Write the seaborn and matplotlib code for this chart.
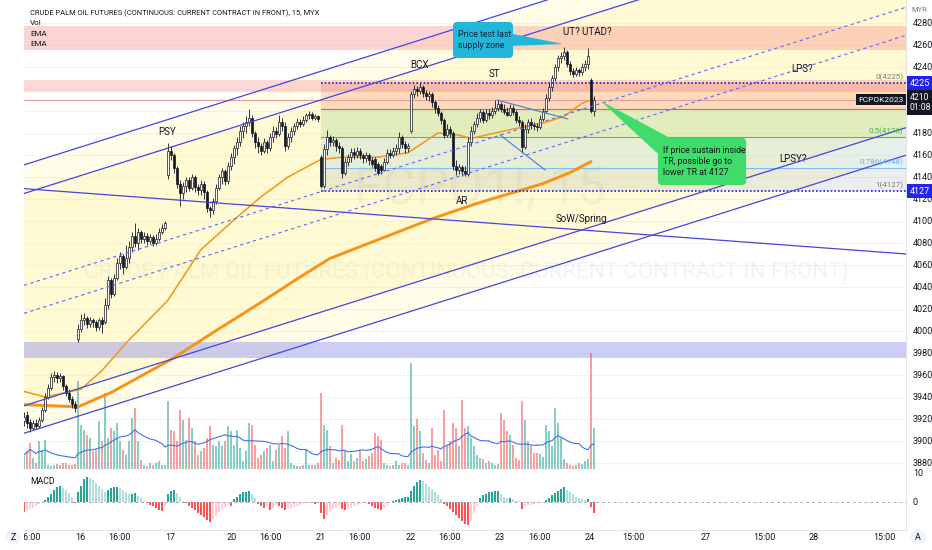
import numpy as np
import pandas as pd
import matplotlib
matplotlib.use("Agg")
import matplotlib.pyplot as plt
import matplotlib.transforms as mtransforms
from matplotlib.patches import FancyBboxPatch, Polygon
import seaborn as sns

# ---------------- DATA (15-min bars, 15 -> 24 Mar) ----------------
opens = (
    [3918,3924,3917,3912,3916,3914,3919,3928,3940,3948,3958,3960,3957,3959,3950,3944,3938,3934]
    + [3993,4002,4010,4012,4006,4010,4008,4004,4010,4008,4024,4046,4034,4048,4062,4068,4058,4066,4076,4086,4080,4090,4084,4086,4082,4085,4080,4084,4090,4094]
    + [4142,4164,4160,4148,4134,4125,4132,4137,4130,4140,4131,4128,4134,4126,4112,4110,4118,4130,4140,4145,4136]
    + [4150,4158,4166,4172,4182,4186,4190,4194,4180,4172,4168,4164,4172,4166,4176,4182,4179,4190,4186,4168,4176,4182,4186,4190,4188,4192,4196,4197,4194,4195]
    + [4158,4132,4165,4176,4172,4174,4168,4166,4144,4154,4158,4163,4160,4164,4160,4157,4160,4155,4156,4152,4150,4146,4154,4162,4160,4164,4166,4176,4170,4166]
    + [4182,4215,4220,4218,4222,4216,4214,4215,4208,4203,4198,4192,4178,4184,4180,4150,4146,4149,4145,4143,4172,4182,4188,4194,4199,4192,4198,4196,4200,4203]
    + [4206,4202,4199,4196,4203,4199,4192,4190,4167,4184,4190,4187,4186,4185,4193,4200,4212,4222,4230,4240,4248,4250,4254,4243,4236,4234,4237,4235,4240,4243]
    + [4228,4200]
)
highs = (
    [3926,3927,3920,3919,3920,3922,3931,3944,3952,3962,3964,3963,3962,3960,3952,3947,3941,3936]
    + [4006,4015,4016,4014,4013,4012,4010,4012,4013,4030,4050,4048,4052,4066,4072,4070,4078,4082,4090,4098,4094,4092,4090,4089,4088,4087,4088,4094,4097,4100]
    + [4171,4168,4162,4150,4137,4135,4140,4140,4143,4142,4134,4137,4136,4128,4114,4121,4134,4143,4148,4147,4154]
    + [4162,4169,4176,4186,4190,4195,4202,4196,4182,4176,4171,4175,4174,4180,4186,4185,4196,4194,4190,4180,4185,4189,4194,4193,4195,4198,4200,4199,4197,4196]
    + [4160,4170,4183,4178,4177,4175,4172,4168,4157,4161,4166,4166,4167,4166,4162,4163,4162,4158,4158,4154,4152,4157,4165,4165,4167,4170,4181,4178,4173,4171]
    + [4218,4224,4223,4225,4224,4219,4218,4217,4210,4205,4200,4194,4188,4186,4182,4155,4152,4151,4150,4176,4186,4191,4198,4202,4201,4202,4202,4204,4210,4210]
    + [4208,4206,4204,4206,4205,4201,4195,4192,4188,4193,4194,4190,4189,4196,4203,4215,4226,4233,4243,4251,4254,4258,4255,4245,4239,4240,4239,4244,4246,4257]
    + [4230,4214]
)
lows = (
    [3914,3912,3908,3910,3911,3912,3917,3926,3938,3946,3954,3953,3954,3946,3941,3935,3930,3926]
    + [3990,3999,4005,4003,4004,4004,4000,4001,3998,4006,4020,4030,4032,4046,4056,4052,4056,4062,4072,4076,4074,4080,4080,4078,4079,4077,4078,4082,4088,4092]
    + [4138,4155,4144,4130,4114,4120,4126,4127,4128,4126,4124,4124,4120,4108,4104,4106,4115,4128,4134,4133,4134]
    + [4146,4152,4160,4168,4175,4180,4186,4176,4166,4162,4160,4162,4162,4164,4172,4175,4177,4182,4164,4165,4172,4178,4184,4185,4186,4190,4193,4192,4192,4190]
    + [4130,4130,4160,4168,4168,4164,4162,4139,4142,4150,4154,4156,4157,4156,4153,4154,4151,4149,4145,4142,4143,4145,4152,4157,4158,4160,4162,4166,4162,4163]
    + [4180,4212,4214,4215,4213,4210,4209,4204,4198,4195,4188,4175,4176,4176,4146,4142,4143,4141,4141,4141,4168,4179,4185,4190,4189,4190,4193,4194,4197,4200]
    + [4199,4197,4195,4195,4196,4189,4186,4162,4165,4180,4184,4183,4182,4184,4191,4198,4209,4218,4227,4236,4244,4246,4240,4233,4231,4232,4232,4233,4236,4238]
    + [4198,4195]
)
closes = (
    [3922,3916,3912,3916,3914,3919,3928,3940,3948,3958,3960,3957,3959,3950,3944,3938,3934,3930]
    + [4002,4010,4012,4006,4010,4008,4004,4010,4006,4024,4046,4034,4048,4062,4068,4058,4066,4076,4086,4080,4090,4084,4086,4082,4085,4080,4084,4090,4094,4098]
    + [4164,4160,4148,4134,4125,4132,4137,4130,4140,4131,4128,4134,4126,4112,4110,4118,4130,4140,4145,4136,4150]
    + [4158,4166,4172,4182,4186,4190,4194,4180,4172,4168,4164,4172,4166,4176,4182,4179,4190,4186,4168,4176,4182,4186,4190,4188,4192,4196,4197,4194,4195,4193]
    + [4132,4165,4176,4172,4174,4168,4166,4144,4154,4158,4163,4160,4164,4160,4157,4160,4155,4152,4148,4144,4146,4154,4162,4160,4164,4166,4176,4170,4166,4168]
    + [4215,4220,4218,4222,4216,4214,4215,4208,4203,4198,4192,4178,4184,4180,4150,4146,4149,4145,4143,4172,4182,4188,4194,4199,4192,4198,4196,4200,4203,4206]
    + [4202,4199,4196,4203,4199,4192,4190,4167,4184,4190,4187,4186,4185,4193,4200,4212,4222,4230,4240,4248,4250,4254,4243,4236,4234,4237,4235,4240,4243,4250]
    + [4200,4210]
)
volumes = (
    [290,360,530,230,130,560,390,590,90,60,90,100,90,130,130,90,90,100]
    + [1760,890,790,690,630,360,390,960,560,1530,630,830,760,930,560,390,290,560,1030,1230,560,190,90,60,130,90,130,160,90,90]
    + [1360,790,760,560,1190,990,590,1030,830,560,290,360,430,630,860,490,460,560,460,560,860]
    + [760,490,790,430,160,360,930,890,490,230,290,360,430,490,160,390,490,660,430,760,130,90,60,60,90,390,90,90,90,130]
    + [1530,890,790,460,120,230,190,890,360,160,300,160,230,390,160,200,260,330,730,660,590,130,90,60,90,160,90,130,130,90]
    + [2130,860,1000,760,330,190,130,830,290,390,160,1190,490,560,930,830,460,1390,830,860,620,460,290,230,200,130,160,130,90,100]
    + [1130,990,760,690,490,230,190,1360,990,560,460,330,330,300,250,890,760,460,1230,930,620,200,130,90,60,90,130,100,160,200]
    + [2330,830]
)
macd_hist = (
    [-3.4,-3.0,-2.6,-2.0,-1.5,-0.8,-0.3,0.6,1.5,2.6,4.0,5.0,5.5,4.8,3.9,3.0,1.6,-0.5]
    + [3.2,5.5,7.8,8.7,8.2,7.4,6.5,5.4,4.3,3.3,4.0,4.8,5.0,5.2,4.6,4.0,3.4,2.6,2.8,3.0,2.0,1.2,0.4,-0.5,-1.0,-1.6,-2.2,-2.8,-3.2,-1.5]
    + [2.8,3.8,4.2,3.0,1.5,0.3,-0.6,-1.4,-2.2,-3.0,-3.8,-4.6,-5.4,-6.2,-7.0,-6.0,-4.8,-3.6,-2.4,-1.8,-1.2]
    + [-1.6,0.8,1.6,2.5,3.2,3.5,3.8,2.6,1.2,-0.8,-1.6,-2.2,-1.6,-2.8,-2.0,-1.2,-1.6,-2.2,-3.0,-2.4,-2.0,-1.7,-1.4,-1.1,-0.8,-0.6,-0.5,-0.6,-0.9,-0.6]
    + [-4.0,-5.8,-4.5,-3.3,-2.6,-2.0,-1.5,-2.4,-3.0,-2.4,-2.0,-1.6,-1.2,-0.9,-0.6,-0.4,-0.9,-1.5,-2.0,-2.6,-3.0,-2.2,-1.2,-0.3,0.4,0.7,1.0,1.3,1.5,1.6]
    + [3.8,5.6,6.8,7.6,7.0,6.2,5.2,4.4,3.4,2.2,1.0,-0.8,-1.6,-2.4,-3.6,-4.6,-5.6,-6.6,-7.6,-8.2,-6.5,-4.0,-1.5,1.4,2.2,2.8,3.2,3.4,3.6,3.8]
    + [2.6,1.8,1.2,1.4,0.8,0.4,0.2,-2.4,-1.6,-1.3,-1.0,-0.8,-0.6,-0.5,-0.3,0.6,1.4,2.2,3.0,3.8,4.5,5.0,4.2,3.4,2.6,1.8,1.2,0.8,0.5,1.0]
    + [-1.8,-3.8]
)
# EMA lines read at a few bars
ema_fast_bar = [0, 7, 14, 19, 26, 34, 48, 59, 70, 79, 88, 99, 106, 118, 128, 138, 145, 149, 162, 173, 180, 186, 190]
ema_fast_val = [3945, 3940, 3944, 3947, 3964, 3989, 4028, 4074, 4101, 4122, 4140, 4156, 4158, 4158, 4162, 4180, 4178, 4175, 4183, 4189, 4195, 4207, 4211]
ema_slow_bar = [0, 18, 29, 49, 65, 79, 92, 102, 136, 151, 162, 173, 182, 189]
ema_slow_val = [3933, 3931, 3944, 3974, 4002, 4026, 4049, 4066, 4102, 4116, 4125, 4134, 4144, 4154]

price_ticks = [4280, 4260, 4240, 4220, 4200, 4180, 4160, 4140, 4120, 4100, 4080, 4060,
               4040, 4020, 4000, 3980, 3960, 3940, 3920, 3900, 3880]
price_ticks_hidden = [4220, 4200]   # covered by the price-scale labels in the reference
x_tick_labels = ["16:00", "16", "16:00", "17", "20", "16:00", "21", "16:00", "22", "16:00",
                 "23", "16:00", "24", "15:00", "27", "15:00", "28", "15:00"]
x_tick_bars = [2, 18.7, 31.7, 48.7, 69.3, 82.3, 99, 112, 129, 142, 158.7, 172, 188.7,
               203.3, 227.3, 246.7, 263.3, 286.7]

# drawings: (bar, price) anchors
channel_bars = [0, 294]
channel1_upper = [4151, 4403.8]
channel1_lower = [3932, 4184.8]
channel2_upper = [4125, 4377.8]
channel2_lower = [3907, 4159.8]
down_line = [4129.4, 4070]
tri_line1 = [[157.7, 4210], [181.3, 4192.7]]
tri_line2 = [[158.7, 4178.2], [173.7, 4146.4]]
supply_zone = [4255.5, 4277.3]
supply_zone2 = [4217.3, 4228.2]
demand_zone = [3975.5, 3990]
fib_start_bar = 99
fib_price0, fib_price1 = 4225, 4127
fib_ratios = [0, 0.236, 0.5, 0.786, 1]
last_price = 4210

wy_labels = ["PSY", "BCX", "ST", "UT? UTAD?", "LPS?", "AR", "SoW/Spring", "LPSY?"]
wy_bar = [47.6, 131.7, 156.7, 187.8, 259.2, 146, 185.7, 256.2]
wy_price = [4181, 4241.8, 4234, 4271.4, 4238.2, 4118, 4101.8, 4156.4]

callout_cyan_text = "Price test last\nsupply zone"
callout_cyan_box = [143, 4248.2, 163, 4280.9]
callout_cyan_wedge = [[161.3, 4270.9], [161.3, 4259.1], [179.7, 4260.9]]
callout_green_text = "If price sustain inside\nTR, possible go to\nlower TR at 4127"
callout_green_box = [211.3, 4132.7, 240.7, 4175.5]
callout_green_wedge = [[216, 4174.5], [211, 4161.8], [192.3, 4209.1]]

title = "CRUDE PALM OIL FUTURES (CONTINUOUS: CURRENT CONTRACT IN FRONT), 15, MYX"

# ---------------- STYLE ----------------
sns.set_style("white")
plt.rcParams["font.family"] = ["Roboto", "DejaVu Sans"]
plt.rcParams["axes.unicode_minus"] = False

TXT = "#131722"
BLUE = "#4646DC"
ORANGE = "#F7931A"

W, H = 932, 550
fig = plt.figure(figsize=(W / 100, H / 100), dpi=100, facecolor="white")
PX0, PX1 = 24, 906
ax = fig.add_axes([PX0 / W, 1 - 469 / H, (PX1 - PX0) / W, 469 / H])
axm = fig.add_axes([PX0 / W, 1 - 530 / H, (PX1 - PX0) / W, 61 / H])

bars = np.arange(len(closes))
o, h, l, c = map(np.array, (opens, highs, lows, closes))
X_MAX = 294
VOL_AXIS_TOP = 9400

# grid
for p in price_ticks:
    ax.axhline(p, color="#EEF0F4", lw=0.6, zorder=0.3)

# channel fills
ax.fill_between(channel_bars, channel1_lower, channel1_upper, color="#FFF176", alpha=0.17, lw=0, zorder=1)
ax.fill_between(channel_bars, channel2_lower, channel2_upper, color="#FFF176", alpha=0.17, lw=0, zorder=1)

# zones
ax.axhspan(*supply_zone, color="#F77F7F", alpha=0.33, lw=0, zorder=1.2)
ax.axhspan(*supply_zone2, color="#F77F7F", alpha=0.30, lw=0, zorder=1.2)
ax.axhspan(*demand_zone, color="#7B7FEF", alpha=0.38, lw=0, zorder=1.2)

# fib retracement
fib_levels = [fib_price0 - r * (fib_price0 - fib_price1) for r in fib_ratios]
fib_fill_colors = ["#F23645", "#4CAF50", "#64B5F6", "#8E919B"]
for k in range(4):
    ax.fill_between([fib_start_bar, X_MAX], fib_levels[k], fib_levels[k + 1],
                    color=fib_fill_colors[k], alpha=0.16, lw=0, zorder=1.3)
ax.plot([fib_start_bar, X_MAX], [fib_levels[1]] * 2, color="#F0585F", lw=0.8, zorder=2)
ax.plot([fib_start_bar, X_MAX], [fib_levels[2]] * 2, color="#5DB862", lw=0.8, zorder=2)
ax.plot([fib_start_bar, X_MAX], [fib_levels[3]] * 2, color="#7DBDF0", lw=0.8, zorder=2)
for lv in (fib_levels[0], fib_levels[4]):
    ax.plot([fib_start_bar, X_MAX], [lv, lv], color="#1E1EE0", lw=1.2, ls=(0, (1, 1.2)), zorder=6)
blend_yd = mtransforms.blended_transform_factory(ax.transAxes, ax.transData)
fib_lab_colors = {0: "#787B86", 0.5: "#4CAF50", 0.786: "#64B5F6", 1: "#787B86"}
for r, lv in zip(fib_ratios, fib_levels):
    if r in fib_lab_colors:
        ax.text(0.9966, lv + 2.3, f"{r:g}({lv:.0f})", transform=blend_yd, ha="right", va="bottom",
                fontsize=5.8, color=fib_lab_colors[r], zorder=9)

# current price line
ax.axhline(last_price, color="#E79C9C", lw=0.8, zorder=2)

# watermark
ax.text(0.517, 0.595, "FCPO1!, 15", transform=ax.transAxes, ha="center", va="center",
        fontsize=37, color=TXT, alpha=0.05, zorder=0.8)
ax.text(0.502, 0.422, "CRUDE PALM OIL FUTURES (CONTINUOUS: CURRENT CONTRACT IN FRONT)",
        transform=ax.transAxes, ha="center", va="center", fontsize=16, color=TXT, alpha=0.05, zorder=0.8)

# volume (overlay at bottom of price pane)
vol_tf = mtransforms.Affine2D().scale(1, 1 / VOL_AXIS_TOP) + \
    mtransforms.blended_transform_factory(ax.transData, ax.transAxes)
up = c >= o
vol_colors = np.where(up, "#26A69A", "#EF5350")
ax.bar(bars, volumes, width=0.68, color=vol_colors, alpha=0.55, lw=0, transform=vol_tf, zorder=3)
vol_ma = pd.Series(volumes).rolling(20, min_periods=1).mean()
ax.plot(bars, vol_ma, color="#3F72E8", lw=0.8, transform=vol_tf, zorder=3.2)

# EMAs
sns.lineplot(x=ema_slow_bar, y=ema_slow_val, ax=ax, color=ORANGE, linewidth=2.1, zorder=4)
sns.lineplot(x=ema_fast_bar, y=ema_fast_val, ax=ax, color=ORANGE, linewidth=1.1, zorder=4)

# candles
ax.vlines(bars, l, h, color=TXT, lw=0.6, zorder=5)
body_lo = np.minimum(o, c)
body_h = np.maximum(np.abs(c - o), 0.6)
ax.bar(bars, body_h, bottom=body_lo, width=0.64, color=np.where(up, "white", TXT),
       edgecolor=TXT, linewidth=0.5, zorder=5.5)

# channel + trend lines (drawn over series)
for line in (channel1_upper, channel1_lower, channel2_upper, channel2_lower):
    ax.plot(channel_bars, line, color=BLUE, lw=0.9, zorder=6)
for up_, lo_ in ((channel1_upper, channel1_lower), (channel2_upper, channel2_lower)):
    mid = (np.array(up_) + np.array(lo_)) / 2
    ax.plot(channel_bars, mid, color="#5E6CE6", lw=0.8, ls=(0, (3, 3)), zorder=6)
ax.plot(channel_bars, down_line, color=BLUE, lw=0.9, zorder=6)
for seg in (tri_line1, tri_line2):
    seg = np.array(seg)
    ax.plot(seg[:, 0], seg[:, 1], color="#4B7BD6", lw=0.8, zorder=6)

# Wyckoff labels
for lab, b, p in zip(wy_labels, wy_bar, wy_price):
    ax.text(b, p, lab, ha="center", va="center", fontsize=7, color=TXT, zorder=9)

# callouts
def callout(box, wedge, text, fc, tc):
    x0, y0, x1, y1 = box
    ax.add_patch(Polygon(wedge, closed=True, fc=fc, ec="none", zorder=8))
    ax.add_patch(FancyBboxPatch((x0, y0), x1 - x0, y1 - y0,
                                boxstyle="round,pad=0,rounding_size=1.4",
                                mutation_aspect=2.73, fc=fc, ec="none", zorder=8))
    ax.text(x0 + 1.6, (y0 + y1) / 2, text, ha="left", va="center", fontsize=6.3,
            color=tc, linespacing=1.35, zorder=9)

callout(callout_cyan_box, callout_cyan_wedge, callout_cyan_text, "#22B6D8", "#0F2440")
callout(callout_green_box, callout_green_wedge, callout_green_text, "#3FDC6C", "#0E1A12")

# legend / title
ax.text(0.0068, 1 - 13 / 469, title, transform=ax.transAxes, fontsize=5.4, va="center", color=TXT, zorder=10)
for ylab, s in ((23, "Vol"), (34, "EMA"), (44, "EMA")):
    ax.text(0.0068, 1 - ylab / 469, s, transform=ax.transAxes, fontsize=5.8, va="center", color=TXT, zorder=10)

# axis labels on right
ax.set_yticks(price_ticks)
ax.set_yticklabels(["" if p in price_ticks_hidden else str(p) for p in price_ticks])
ax.yaxis.tick_right()
ax.tick_params(axis="y", length=0, pad=5, labelsize=6.5, labelcolor=TXT)
ax.set_xticks([])
ax.text(1.006, 1 - 10 / 469, "MYR", transform=ax.transAxes, fontsize=5.5, color="#787B86", va="center")
for p in (fib_price0, fib_price1):
    ax.text(1.0042, p, f"{p}", transform=blend_yd, ha="left", va="center", fontsize=6.5, color="white",
            bbox=dict(boxstyle="square,pad=0.3", fc="#2424E8", ec="none"), zorder=20, clip_on=False)
ax.text(1.0042, last_price - 2.3, f"{last_price}\n01:08", transform=blend_yd, ha="left", va="center",
        fontsize=6.2, color="white", linespacing=1.15,
        bbox=dict(boxstyle="square,pad=0.3", fc=TXT, ec="none"), zorder=20, clip_on=False)
ax.text(0.9975, last_price, "FCPOK2023", transform=blend_yd, ha="right", va="center", fontsize=6,
        color="white", bbox=dict(boxstyle="square,pad=0.3", fc=TXT, ec="none"), zorder=20)

# MACD pane
hist = np.array(macd_hist)
prev = np.r_[hist[0], hist[:-1]]
macd_colors = np.where(hist >= 0,
                       np.where(hist >= prev, "#26A69A", "#B2DFDB"),
                       np.where(hist > prev, "#FFCDD2", "#FF5252"))
axm.bar(bars, hist, width=0.66, color=macd_colors, lw=0)
axm.axhline(0, color="#A9ACB6", lw=0.7, ls=(0, (3, 3)))
axm.set_yticks([0, 10])
axm.set_yticklabels(["0", "10"])
axm.yaxis.tick_right()
axm.tick_params(axis="y", length=0, pad=5, labelsize=6.5, labelcolor=TXT)
axm.set_xticks([])
axm.text(0.0068, 0.80, "MACD", transform=axm.transAxes, fontsize=6.3, color=TXT, va="center")

# time labels
xlab_tf = mtransforms.blended_transform_factory(axm.transData, axm.transAxes)
clip = mtransforms.TransformedBbox(mtransforms.Bbox([[PX0 / W, 0], [1, 1]]), fig.transFigure)
for b, lab in zip(x_tick_bars, x_tick_labels):
    t = axm.text(b, -(537 - 530) / 61, lab, transform=xlab_tf, ha="center", va="center",
                 fontsize=6.5, color=TXT)
    t.set_clip_path(None)
    t.set_clip_box(clip)
    t.set_clip_on(True)

fig.text(13 / W, 1 - 537 / H, "Z", ha="center", va="center", fontsize=6.5, color=TXT,
         bbox=dict(boxstyle="circle,pad=0.35", fc="#F0F3FA", ec="none"))
fig.text(918 / W, 1 - 537 / H, "A", ha="center", va="center", fontsize=6.5, color=TXT,
         bbox=dict(boxstyle="circle,pad=0.35", fc="#F0F3FA", ec="none"))

# spines and limits
for a in (ax, axm):
    for s in ("top", "left"):
        a.spines[s].set_visible(False)
    for s in ("right", "bottom"):
        a.spines[s].set_visible(True)
        a.spines[s].set_color("#E0E3EB")
        a.spines[s].set_linewidth(0.8)
    a.set_xlabel("")
    a.set_ylabel("")
    a.set_xlim(0, X_MAX)
ax.set_ylim(3874.5, 4300.9)
axm.set_ylim(-9.76, 11.3)

fig.savefig("out.png", dpi=100)
